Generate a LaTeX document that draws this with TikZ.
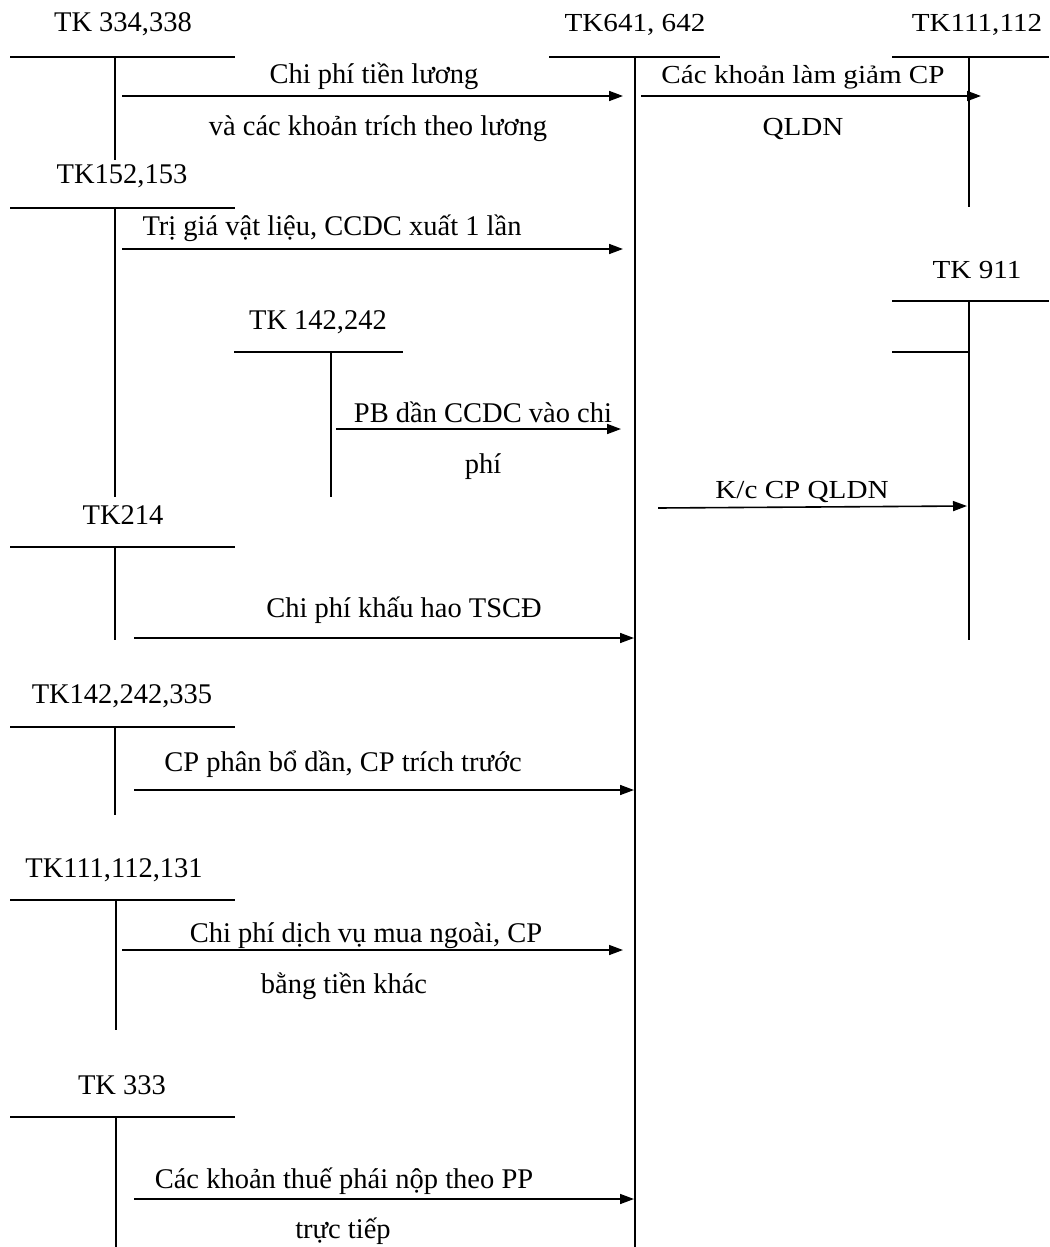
\documentclass[tikz,border=0pt]{standalone}
\usepackage{fontspec}
\setmainfont{Liberation Serif}
\newfontfamily\widefont[FakeStretch=1.12]{Liberation Serif}
\usetikzlibrary{arrows.meta}
\begin{document}
\begin{tikzpicture}[x=1pt,y=-1pt,
  acc/.style={line width=1.1pt},
  flow/.style={line width=1.6pt,-{Triangle[length=14pt,width=10pt]}},
  lbl/.style={font=\fontsize{28.5}{32}\selectfont, inner sep=0pt, anchor=base},
  wlbl/.style={lbl, font=\fontsize{26}{30}\selectfont\widefont}]
\useasboundingbox (0,0) rectangle (1049,1247);

% ---------- account labels ----------
\node[lbl]  (t334) at (123,32)   {TK 334,338};
\node[wlbl] (t641) at (635,32)   {TK641, 642};
\node[wlbl] (t111) at (977,32)   {TK111,112};
\node[lbl]  (t152) at (122,183)  {TK152,153};
\node[wlbl] (t911) at (977,278)  {TK 911};
\node[lbl]  (t142) at (318,329)  {TK 142,242};
\node[lbl]  (t214) at (123,524)  {TK214};
\node[lbl]  (t335) at (122,703)  {TK142,242,335};
\node[lbl]  (t131) at (114,877)  {TK111,112,131};
\node[lbl]  (t333) at (122,1094) {TK 333};

% ---------- T-account coordinates ----------
\coordinate (a1L) at (10,57);   \coordinate (a1R) at (235,57);
\coordinate (a1T) at (115,57);  \coordinate (a1B) at (115,160);
\coordinate (a2L) at (549,57);  \coordinate (a2R) at (720,57);
\coordinate (a2T) at (635,57);  \coordinate (a2B) at (635,1247);
\coordinate (a3L) at (892,57);  \coordinate (a3R) at (1049,57);
\coordinate (a3T) at (969,57);  \coordinate (a3B) at (969,207);
\coordinate (a4L) at (10,208);  \coordinate (a4R) at (235,208);
\coordinate (a4T) at (115,208); \coordinate (a4B) at (115,497);
\coordinate (a5L) at (892,301); \coordinate (a5R) at (1049,301);
\coordinate (a5T) at (969,301); \coordinate (a5B) at (969,640);
\coordinate (a5sL) at (892,352); \coordinate (a5sR) at (969,352);
\coordinate (a6L) at (234,352); \coordinate (a6R) at (403,352);
\coordinate (a6T) at (331,352); \coordinate (a6B) at (331,497);
\coordinate (a7L) at (10,547);  \coordinate (a7R) at (235,547);
\coordinate (a7T) at (115,547); \coordinate (a7B) at (115,640);
\coordinate (a8L) at (10,727);  \coordinate (a8R) at (235,727);
\coordinate (a8T) at (115,727); \coordinate (a8B) at (115,815);
\coordinate (a9L) at (10,900);  \coordinate (a9R) at (235,900);
\coordinate (a9T) at (116,900); \coordinate (a9B) at (116,1030);
\coordinate (a10L) at (10,1117); \coordinate (a10R) at (235,1117);
\coordinate (a10T) at (116,1117); \coordinate (a10B) at (116,1247);

\foreach \n in {1,...,10}{
  \draw[acc] (a\n L) -- (a\n R);
  \draw[acc] (a\n T) -- (a\n B);
}
\draw[acc] (a5sL) -- (a5sR);

% ---------- flows ----------
\coordinate (f1s) at (122,96);  \coordinate (f1e) at (623,96);
\coordinate (f2s) at (641,96);  \coordinate (f2e) at (981,96);
\coordinate (f3s) at (122,249); \coordinate (f3e) at (623,249);
\coordinate (f4s) at (336,429); \coordinate (f4e) at (621,429);
\coordinate (f5s) at (658,508); \coordinate (f5e) at (967,506);
\coordinate (f6s) at (134,638); \coordinate (f6e) at (634,638);
\coordinate (f7s) at (134,790); \coordinate (f7e) at (634,790);
\coordinate (f8s) at (122,950); \coordinate (f8e) at (623,950);
\coordinate (f9s) at (134,1199); \coordinate (f9e) at (634,1199);
\foreach \n in {1,...,9}{ \draw[flow] (f\n s) -- (f\n e); }

% ---------- flow labels ----------
\node[lbl]  (l1a) at (374,84)   {Chi phí tiền lương};
\node[lbl]  (l1b) at (378,135)  {và các khoản trích theo lương};
\node[wlbl] (l2a) at (803,84)   {Các khoản làm giảm CP};
\node[wlbl] (l2b) at (803,135)  {QLDN};
\node[lbl]  (l3)  at (332,235)  {Trị giá vật liệu, CCDC xuất 1 lần};
\node[lbl]  (l4a) at (483,422)  {PB dần CCDC vào chi};
\node[lbl]  (l4b) at (483,473)  {phí};
\node[wlbl] (l5)  at (802,498)  {K/c CP QLDN};
\node[lbl]  (l6)  at (404,617)  {Chi phí khấu hao TSCĐ};
\node[lbl]  (l7)  at (343,771)  {CP phân bổ dần, CP trích trước};
\node[lbl]  (l8a) at (366,942)  {Chi phí dịch vụ mua ngoài, CP};
\node[lbl]  (l8b) at (344,993)  {bằng tiền khác};
\node[lbl]  (l9a) at (344,1188) {Các khoản thuế phái nộp theo PP};
\node[lbl]  (l9b) at (343,1238) {trực tiếp};
\end{tikzpicture}
\end{document}
